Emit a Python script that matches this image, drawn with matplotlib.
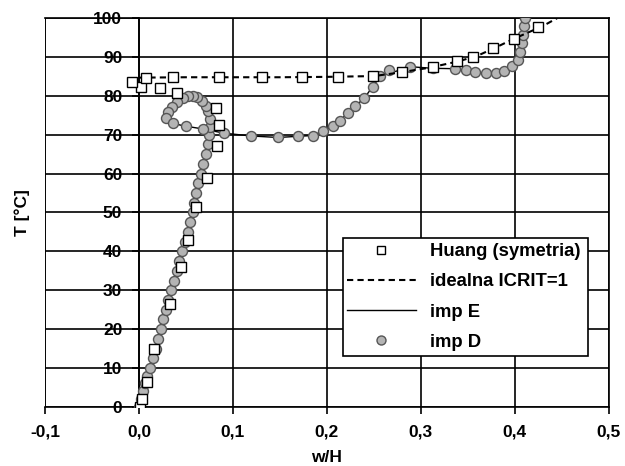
import numpy as np
import matplotlib.pyplot as plt

plt.rcParams['font.family'] = ['Liberation Sans', 'DejaVu Sans']

# Huang (symetria) - open squares
huang_x = [0.001, 0.003, 0.009, 0.016, 0.033, 0.045, 0.052, 0.061, 0.072, 0.083,
           0.085, 0.082, 0.040, 0.022, 0.002, -0.007, 0.008, 0.036, 0.085, 0.131,
           0.174, 0.212, 0.249, 0.280, 0.313, 0.339, 0.356, 0.377, 0.399, 0.425]
huang_y = [0.0, 2.0, 6.5, 15.0, 26.5, 36.0, 43.0, 51.3, 59.0, 67.0,
           72.5, 77.0, 80.8, 82.0, 82.4, 83.6, 84.5, 84.8, 84.8, 84.8,
           84.9, 84.9, 85.1, 86.1, 87.4, 88.9, 90.1, 92.4, 94.7, 97.8]

# idealna ICRIT=1 - dashed line
ideal_x = [0.0, 0.05, 0.10, 0.15, 0.20, 0.25, 0.28, 0.31, 0.34, 0.36, 0.38, 0.40, 0.43, 0.445]
ideal_y = [84.7, 84.8, 84.8, 84.8, 84.9, 85.1, 86.1, 87.3, 88.9, 90.3, 92.5, 94.8, 98.0, 100.0]

# imp E - solid line
impE_x = [0.0, 0.012, 0.023, 0.034, 0.046, 0.057, 0.066, 0.073, 0.076, 0.074, 0.067,
          0.057, 0.047, 0.035, 0.029, 0.036, 0.050, 0.068, 0.091, 0.119, 0.148, 0.169,
          0.185, 0.196, 0.207, 0.222, 0.240, 0.257, 0.289, 0.313, 0.336, 0.358, 0.369,
          0.380, 0.389, 0.403, 0.408, 0.411]
impE_y = [0.0, 10.0, 20.0, 30.0, 40.0, 50.0, 60.0, 67.5, 74.0, 77.5, 79.0,
          80.0, 79.5, 77.2, 74.3, 72.9, 72.2, 71.5, 70.4, 69.7, 69.3, 69.6,
          69.8, 71.0, 72.2, 75.5, 79.5, 85.1, 87.5, 87.1, 87.0, 86.1, 85.8,
          85.9, 86.5, 89.3, 93.6, 100.0]

# imp D - grey circles
impD_x = [0.0, 0.002, 0.004, 0.006, 0.009, 0.012, 0.015, 0.018, 0.020, 0.023,
          0.026, 0.029, 0.031, 0.034, 0.037, 0.040, 0.043, 0.046, 0.049, 0.052,
          0.054, 0.057, 0.059, 0.061, 0.063, 0.066, 0.068, 0.071, 0.073, 0.075,
          0.076, 0.076, 0.074, 0.071, 0.067, 0.062, 0.057, 0.052, 0.047, 0.041,
          0.035, 0.031, 0.029, 0.036, 0.050, 0.068, 0.091, 0.119, 0.148, 0.169,
          0.185, 0.196, 0.207, 0.214, 0.222, 0.230, 0.240, 0.249, 0.257, 0.266,
          0.289, 0.313, 0.336, 0.348, 0.358, 0.369, 0.380, 0.389, 0.397, 0.403,
          0.406, 0.408, 0.409, 0.410, 0.411]
impD_y = [0.0, 2.0, 4.0, 6.0, 8.0, 10.0, 12.5, 15.0, 17.5, 20.0,
          22.5, 25.0, 27.5, 30.0, 32.5, 35.0, 37.5, 40.0, 42.5, 45.0,
          47.5, 50.0, 52.5, 55.0, 57.5, 60.0, 62.5, 65.0, 67.5, 70.0,
          72.0, 74.0, 76.0, 77.5, 78.8, 79.6, 80.0, 80.0, 79.5, 78.5,
          77.2, 75.8, 74.3, 72.9, 72.2, 71.5, 70.4, 69.7, 69.3, 69.6,
          69.8, 71.0, 72.2, 73.6, 75.5, 77.4, 79.5, 82.2, 85.1, 86.7,
          87.5, 87.1, 87.0, 86.6, 86.1, 85.8, 85.9, 86.5, 87.6, 89.3,
          91.4, 93.6, 95.7, 97.9, 100.0]

x_ticks = [-0.1, 0.0, 0.1, 0.2, 0.3, 0.4, 0.5]
x_labels = ['-0,1', '0,0', '0,1', '0,2', '0,3', '0,4', '0,5']
y_ticks = list(range(0, 101, 10))

fig = plt.figure(figsize=(6.25, 4.66), dpi=100)
ax = fig.add_axes([0.072, 0.127, 0.902, 0.834])

ax.plot(impE_x, impE_y, color='black', lw=1.0, label='imp E', zorder=3)
ax.plot(impD_x, impD_y, ls='none', marker='o', ms=7.2, mfc='#b4b4b4', mec='#555555',
        mew=1.0, label='imp D', zorder=4)
ax.plot(ideal_x, ideal_y, color='black', lw=1.5, ls=(0, (3, 2)), label='idealna ICRIT=1', zorder=5)
ax.plot(huang_x, huang_y, ls='none', marker='s', ms=7, mfc='white', mec='black',
        mew=1.0, label='Huang (symetria)', zorder=6)

ax.set_xlim(-0.1, 0.5)
ax.set_ylim(0, 100)
ax.set_xticks(x_ticks)
ax.set_xticklabels(x_labels)
ax.set_yticks(y_ticks)

ax.spines['left'].set_position(('data', 0))
ax.axvline(-0.1, color='black', lw=1.2, zorder=1)
for s in ax.spines.values():
    s.set_linewidth(1.2)
ax.grid(True, color='black', lw=1.2, zorder=1)
ax.set_axisbelow(True)

ax.tick_params(axis='x', direction='out', length=5, width=1.2, pad=8, labelsize=12.5)
ax.tick_params(axis='y', direction='out', length=5, width=1.2, pad=7, labelsize=12.5)
for lab in ax.get_xticklabels() + ax.get_yticklabels():
    lab.set_fontweight('bold')

ax.set_xlabel('w/H', fontsize=12.5, fontweight='bold', labelpad=7)
ax.text(-0.04, 0.5, 'T [°C]', transform=ax.transAxes, rotation=90, fontsize=12.5,
        fontweight='bold', ha='center', va='center')

handles, labels = ax.get_legend_handles_labels()
order = [3, 2, 0, 1]
leg = ax.legend([handles[i] for i in order], [labels[i] for i in order],
                loc='lower left', bbox_to_anchor=(0.528, 0.132, 0.435, 0.306),
                mode='expand', fancybox=False, framealpha=1, edgecolor='black',
                handlelength=3.7, markerscale=0.9, borderaxespad=0, borderpad=0.25,
                prop={'size': 13.3, 'weight': 'bold'}, labelspacing=0.72)
leg.get_frame().set_linewidth(1.2)
leg.set_zorder(10)

fig.savefig('out.png', dpi=100)
